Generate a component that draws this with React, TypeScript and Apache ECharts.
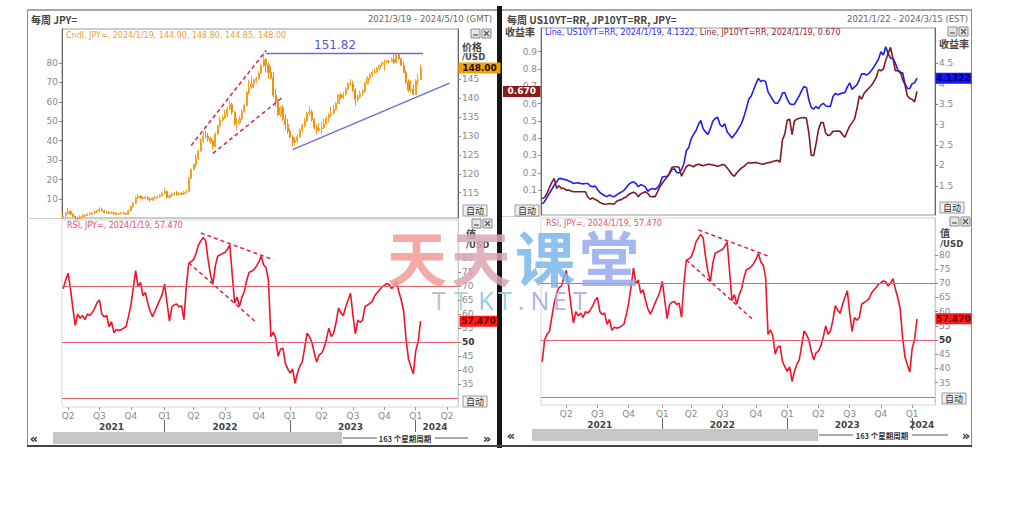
import React, { useEffect, useRef } from "react";
import * as echarts from "echarts";

// ---------------- categories (weekly, Friday) ----------------
const FIRST_WEEK = "2021/1/22";
const TOTAL_WEEKS = 172;
function buildWeeks(start: string, n: number): string[] {
  const [y, m, d] = start.split("/").map(Number);
  const out: string[] = [];
  for (let i = 0; i < n; i++) {
    const t = new Date(Date.UTC(y, m - 1, d + 7 * i));
    out.push(`${t.getUTCFullYear()}/${t.getUTCMonth() + 1}/${t.getUTCDate()}`);
  }
  return out;
}
const weeks = buildWeeks(FIRST_WEEK, TOTAL_WEEKS);
const LEFT_OFFSET = 8; // left panel starts 2021/3/19
const leftWeeks = weeks.slice(LEFT_OFFSET, LEFT_OFFSET + 164);
const rightWeeks = weeks.slice(0, 164);

// ---------------- data ----------------
// JPY= weekly candles from 2021/3/19 to 2024/1/19: [open, close, low, high]
const jpyCandles = [
  [108.7,108.9,108.4,109.3],[108.9,109.6,108.6,109.9],[109.6,110.0,109.3,110.9],[110.0,109.3,109.0,110.3],
  [109.3,108.7,108.5,109.5],[108.7,108.4,107.8,108.9],[108.4,108.2,107.5,108.6],[108.2,108.6,107.9,109.0],
  [108.6,108.8,108.3,109.3],[108.8,109.0,108.6,109.4],[109.0,109.2,108.8,109.6],[109.2,109.3,108.9,109.8],
  [109.3,109.6,109.1,110.0],[109.6,109.9,109.3,110.3],[109.9,110.1,109.6,110.5],[110.1,110.6,109.9,111.1],
  [110.6,110.2,110.0,111.0],[110.2,109.7,109.5,110.5],[109.7,109.8,109.4,110.2],[109.8,109.6,109.3,110.1],
  [109.6,109.7,109.3,110.1],[109.7,109.5,109.1,110.0],[109.5,109.3,109.0,109.8],[109.3,109.4,109.1,109.7],
  [109.4,109.6,109.2,110.0],[109.6,109.4,109.2,109.9],[109.4,109.3,109.1,109.7],[109.3,110.2,109.2,110.5],
  [110.2,111.3,110.0,111.6],[111.3,112.2,111.0,112.5],[112.2,113.6,112.0,114.0],[113.6,114.0,113.3,114.7],
  [114.0,113.6,113.3,114.4],[113.6,113.5,113.2,114.0],[113.5,113.8,113.3,114.2],[113.8,113.4,113.0,114.1],
  [113.4,113.1,112.6,113.7],[113.1,113.5,112.8,113.8],[113.5,113.7,113.2,114.1],[113.7,113.9,113.4,114.3],
  [113.9,114.2,113.6,114.6],[114.2,114.8,114.0,115.2],[114.8,115.3,114.6,116.2],[115.3,113.7,113.5,115.6],
  [113.7,114.2,113.5,114.6],[114.2,114.6,113.9,115.0],[114.6,114.9,114.3,115.3],[114.9,114.5,114.2,115.5],
  [114.5,114.8,114.3,115.2],[114.8,114.6,114.4,115.1],[114.6,115.0,114.4,115.4],[115.0,115.3,114.8,115.8],
  [115.3,118.8,115.2,119.2],[118.8,121.2,118.6,121.4],[121.2,122.4,120.8,122.8],[122.4,124.0,121.6,125.1],
  [124.0,126.0,123.6,126.4],[126.0,128.8,125.8,129.4],[128.8,129.9,128.2,131.2],[129.9,130.0,129.2,131.3],
  [130.0,129.3,128.5,130.8],[129.3,128.6,128.0,129.8],[128.6,127.2,126.4,128.9],[127.2,130.5,127.0,130.9],
  [130.5,132.6,130.2,133.0],[132.6,134.2,132.3,135.2],[134.2,134.8,133.8,135.6],[134.8,135.6,134.5,136.9],
  [135.6,137.2,135.2,137.8],[137.2,138.3,136.8,139.4],[138.3,136.3,135.6,138.8],[136.3,133.3,132.8,136.6],
  [133.3,133.5,131.6,134.8],[133.5,134.5,133.0,135.3],[134.5,136.5,134.2,137.0],[136.5,138.0,136.2,138.6],
  [138.0,141.5,137.8,142.0],[141.5,142.9,141.0,144.9],[142.9,143.8,142.5,145.9],[143.8,144.6,142.6,145.2],
  [144.6,145.2,144.0,145.6],[145.2,146.6,144.8,147.1],[146.6,148.6,146.3,149.0],[148.6,150.2,148.3,151.9],
  [150.2,148.8,146.8,150.6],[148.8,146.8,145.1,149.5],[146.8,145.4,145.0,148.4],[145.4,140.8,140.2,147.0],
  [140.8,139.0,137.7,142.5],[139.0,135.6,135.2,139.9],[135.6,137.5,135.0,137.9],[137.5,134.5,134.0,138.1],
  [134.5,133.0,131.7,135.9],[133.0,131.2,130.6,134.5],[131.2,129.7,129.5,132.0],[129.7,128.3,127.2,130.2],
  [128.3,128.8,127.6,129.7],[128.8,129.8,128.2,130.6],[129.8,131.6,129.4,132.0],[131.6,132.8,130.9,133.2],
  [132.8,134.0,132.4,134.8],[134.0,136.0,133.6,136.4],[136.0,136.4,135.3,137.9],[136.4,134.3,133.8,137.0],
  [134.3,132.3,131.8,134.7],[132.3,131.5,130.4,132.9],[131.5,132.0,131.0,133.5],[132.0,132.1,130.7,133.8],
  [132.1,133.2,131.8,134.6],[133.2,134.7,132.9,135.2],[134.7,135.6,133.6,136.0],[135.6,136.0,135.0,137.8],
  [136.0,137.0,135.6,138.3],[137.0,138.6,136.7,139.0],[138.6,140.8,138.4,141.0],[140.8,140.2,139.7,141.4],
  [140.2,141.0,139.8,141.6],[141.0,142.4,140.6,142.9],[142.4,143.8,142.1,144.2],[143.8,143.8,143.2,145.0],
  [143.8,142.2,141.6,144.5],[142.2,139.6,138.0,142.6],[139.6,140.3,139.0,141.0],[140.3,141.2,140.0,142.0],
  [141.2,141.9,140.6,142.3],[141.9,143.9,141.6,144.3],[143.9,145.3,143.6,145.8],[145.3,146.2,144.8,146.6],
  [146.2,146.8,145.6,147.3],[146.8,147.0,146.4,147.9],[147.0,147.9,146.7,148.3],[147.9,148.7,147.3,148.9],
  [148.7,149.2,148.5,149.7],[149.2,149.5,147.3,150.2],[149.5,149.8,149.1,150.1],[149.8,149.7,149.3,150.1],
  [149.7,150.2,149.5,150.8],[150.2,149.4,149.0,151.7],[149.4,151.5,149.2,151.7],[151.5,150.4,150.2,151.9],
  [150.4,148.7,148.5,150.7],[148.7,146.8,146.6,149.7],[146.8,144.4,143.8,147.3],[144.4,142.1,141.6,145.0],
  [142.1,142.4,141.5,144.9],[142.4,141.0,140.8,143.6],[141.0,144.6,140.9,145.0],[144.6,144.9,143.4,146.4],
  [144.9,148.0,144.85,148.8],
];

// RSI of JPY= weekly, from 2021/1/22 to 2024/1/19
const rsiValues = [
  42.3, 50, 52, 53, 58, 63, 66.5, 68.5, 69, 72,
  74.5, 69, 62, 56, 60, 58.5, 59.5, 58, 60, 59.5,
  60.5, 62, 64, 65, 60, 59, 59.5, 55.5, 57.3, 53.4,
  54.5, 54.2, 54.4, 55, 55.5, 59, 63, 69, 75.4, 69.8,
  71.2, 66.5, 67.7, 64, 61, 59.1, 61, 63, 65, 67,
  70.7, 64, 57.5, 62.5, 63.3, 63.6, 62.5, 63, 58, 70,
  78.1, 78.6, 79.3, 81.5, 84.5, 86, 87.2, 86, 79.3, 74,
  70.7, 77, 80.6, 81, 81.5, 81.9, 83, 84.6, 74, 63.9,
  66, 62.7, 66, 68, 72, 74.8, 75.2, 75.8, 77, 78.5,
  80.5, 77.5, 76.4, 72, 52, 53.6, 51.4, 45, 47.5, 47.9,
  42.5, 40.5, 39, 40.5, 35.4, 39, 41.5, 43, 48, 53.2,
  52, 50, 46.1, 43, 45.5, 46.1, 48, 51, 55, 52,
  53.2, 57, 62.1, 60.5, 59.4, 62.5, 65, 67.4, 59.5, 53,
  57.9, 57, 58, 62.7, 63.2, 63.8, 64.5, 66.5, 67.6, 68.5,
  69.7, 70.2, 70.8, 70.5, 69, 70, 71.6, 68, 65, 61,
  51, 44, 41.3, 38.7, 47, 50.2, 57.47,
];

// US10YT=RR weekly yield, 2021/1/22 .. 2024/1/19
const us10y = [
  1.06, 1.12, 1.22, 1.32, 1.42, 1.52, 1.6, 1.68, 1.68, 1.66,
  1.65, 1.62, 1.6, 1.56, 1.57, 1.58, 1.56, 1.55, 1.56, 1.56,
  1.5, 1.48, 1.5, 1.42, 1.34, 1.3, 1.26, 1.24, 1.28, 1.25,
  1.24, 1.28, 1.32, 1.35, 1.39, 1.46, 1.54, 1.58, 1.6, 1.56,
  1.48, 1.53, 1.51, 1.47, 1.37, 1.42, 1.44, 1.42, 1.46, 1.55,
  1.72, 1.73, 1.73, 1.8, 1.9, 1.92, 1.83, 1.82, 1.9, 2.05,
  2.36, 2.44, 2.65, 2.76, 2.85, 3.0, 3.1, 2.9, 2.82, 2.76,
  2.9, 3.08, 3.15, 3.18, 3.0, 2.95, 3.02, 2.82, 2.75, 2.67,
  2.75, 2.83, 2.93, 3.03, 3.2, 3.4, 3.62, 3.7, 3.85, 4.0,
  4.13, 4.05, 4.08, 4.05, 3.8, 3.7, 3.6, 3.52, 3.52, 3.62,
  3.77, 3.78, 3.62, 3.51, 3.49, 3.5, 3.6, 3.7, 3.83, 3.93,
  3.9, 3.6, 3.42, 3.38, 3.44, 3.39, 3.48, 3.52, 3.46, 3.44,
  3.45, 3.68, 3.76, 3.73, 3.75, 3.77, 3.78, 3.92, 4.02, 3.86,
  3.92, 3.97, 4.1, 4.24, 4.24, 4.21, 4.25, 4.32, 4.4, 4.5,
  4.6, 4.78, 4.7, 4.9, 4.74, 4.62, 4.62, 4.5, 4.34, 4.26,
  4.27, 4.0, 3.88, 3.88, 4.0, 4.02, 4.1322,
];

// JP10YT=RR weekly yield, 2021/1/22 .. 2024/1/19
const jp10y = [
  0.05, 0.058, 0.08, 0.115, 0.145, 0.168, 0.11, 0.125, 0.11, 0.11,
  0.1, 0.1, 0.095, 0.09, 0.09, 0.09, 0.09, 0.09, 0.09, 0.06,
  0.047, 0.055, 0.045, 0.04, 0.028, 0.022, 0.018, 0.02, 0.023, 0.02,
  0.02, 0.035, 0.042, 0.045, 0.055, 0.06, 0.075, 0.082, 0.088, 0.08,
  0.062, 0.078, 0.085, 0.09, 0.08, 0.063, 0.062, 0.062, 0.09, 0.12,
  0.14, 0.16, 0.175, 0.2, 0.23, 0.235, 0.235, 0.23, 0.18, 0.21,
  0.235, 0.245, 0.24, 0.235, 0.245, 0.25, 0.245, 0.24, 0.245, 0.25,
  0.248, 0.245, 0.242, 0.238, 0.242, 0.248, 0.245, 0.228, 0.21, 0.19,
  0.18, 0.2, 0.215, 0.228, 0.237, 0.25, 0.26, 0.255, 0.258, 0.26,
  0.255, 0.252, 0.25, 0.255, 0.258, 0.26, 0.265, 0.27, 0.272, 0.262,
  0.39, 0.425, 0.505, 0.51, 0.42, 0.5, 0.51, 0.515, 0.518, 0.52,
  0.515, 0.43, 0.3, 0.3, 0.37, 0.45, 0.49, 0.49, 0.43, 0.415,
  0.42, 0.44, 0.44, 0.442, 0.44, 0.42, 0.405, 0.44, 0.47, 0.49,
  0.51, 0.57, 0.645, 0.625, 0.66, 0.675, 0.69, 0.705, 0.725, 0.75,
  0.795, 0.79, 0.8, 0.85, 0.89, 0.925, 0.86, 0.79, 0.79, 0.785,
  0.74, 0.71, 0.645, 0.63, 0.625, 0.61, 0.67,
];

// Hand-drawn trend lines [date, value]
const priceChannelUpper = [["2022/3/25", 127.5], ["2022/10/28", 152.6]];
const priceChannelLower = [["2022/5/27", 125.4], ["2022/12/16", 140.3]];
const priceResistance = [["2022/10/28", 151.82], ["2024/1/26", 151.82]];
const priceSupport = [["2023/1/13", 126.4], ["2024/4/12", 144.0]];
const rsiTrendUpper = [["2022/4/22", 88.8], ["2022/11/18", 79.3]];
const rsiTrendLower = [["2022/3/18", 78.2], ["2022/9/30", 57.0]];
const rsiLevels = [30, 50, 70];

// tick labels
const priceTicks = [115, 120, 125, 130, 135, 140, 145];
const leftAuxTicks = [10, 20, 30, 40, 50, 60, 70, 80];
const rsiTicks = [35, 40, 45, 50, 55, 60, 65, 70, 75, 80];
const jpTicks = [0.1, 0.2, 0.3, 0.4, 0.5, 0.6, 0.7, 0.8, 0.9];
const usTicks = [1.5, 2, 2.5, 3, 3.5, 4, 4.5];

const lastCandle = { date: "2024/1/19", open: 144.9, high: 148.8, low: 144.85, close: 148.0 };
const lastRsi = 57.47;
const lastUs = 4.1322;
const lastJp = 0.67;

// watermark
const watermarkChars = ["天", "天", "课", "堂"];
const watermarkColors = ["#f29b98", "#dba7b4", "#7ab6ea", "#95a9ef"];
const watermarkSub = ["T", "T", "K", "T", ".", "N", "E", "T"];
const watermarkSubColors = ["#b8b8b8", "#a4ccd4", "#82c6da", "#94c8d8", "#9aaee6", "#a2a8ec", "#a8a8ee", "#a8a8ee"];

// ---------------- helpers ----------------
const FONT = "Verdana, 'DejaVu Sans', 'Noto Sans CJK SC', sans-serif";
const CJK = "'Noto Sans CJK SC', 'DejaVu Sans', sans-serif";

function parts(v: string) {
  const [y, m, d] = v.split("/").map(Number);
  return { y, m, d };
}
const isQuarterStart = (_i: number, v: string) => {
  const { m, d } = parts(v);
  return (m === 1 || m === 4 || m === 7 || m === 10) && d <= 7;
};
const isYearStart = (_i: number, v: string) => {
  const { m, d } = parts(v);
  return m === 1 && d <= 7;
};
const qLabel = (v: string) => "Q" + (Math.floor((parts(v).m - 1) / 3) + 1);
function yearMidSet(cats: string[]): Set<number> {
  const ranges: Record<number, [number, number]> = {};
  cats.forEach((c, i) => {
    const y = parts(c).y;
    if (!ranges[y]) ranges[y] = [i, i];
    else ranges[y][1] = i;
  });
  const s = new Set<number>();
  Object.values(ranges).forEach(([a, b]) => s.add(Math.floor((a + b) / 2)));
  return s;
}

function xAxesFor(grid: number, cats: string[]) {
  const mids = yearMidSet(cats);
  return [
    { type: "category", gridIndex: grid, data: cats, show: false },
    {
      type: "category", gridIndex: grid + 1, data: cats, position: "bottom",
      axisLine: { show: false },
      axisTick: { show: true, alignWithLabel: true, interval: isQuarterStart, length: 3, lineStyle: { color: "#999" } },
      axisLabel: { interval: isQuarterStart, formatter: qLabel, color: "#8a8a8a", fontSize: 9, margin: 4, fontFamily: FONT },
      splitLine: { show: false },
    },
    {
      type: "category", gridIndex: grid + 1, data: cats, position: "bottom", offset: 13,
      axisLine: { show: false },
      axisTick: { show: true, alignWithLabel: true, interval: isYearStart, length: 12, lineStyle: { color: "#666" } },
      axisLabel: {
        interval: (i: number) => mids.has(i), formatter: (v: string) => String(parts(v).y),
        color: "#444", fontWeight: "bold", fontSize: 9, margin: 2, fontFamily: FONT,
      },
      splitLine: { show: false },
    },
  ];
}

function valueAxis(grid: number, pos: string, min: number, max: number, ticks: number[], fmt?: any, extra: any = {}) {
  return {
    type: "value", gridIndex: grid, position: pos, min, max,
    splitLine: { show: false },
    axisLine: { show: true, lineStyle: { color: extra.lineColor || "#666" } },
    axisTick: { show: true, customValues: ticks, length: 3, lineStyle: { color: "#888" } },
    axisLabel: {
      customValues: ticks, color: "#8a8a8a", fontSize: 9, margin: 4, fontFamily: FONT,
      formatter: fmt || ((v: number) => String(v)),
      rich: { b: { fontWeight: "bold", color: "#333", fontSize: 9, fontFamily: FONT } },
    },
  };
}

const rsiFmt = (v: number) => (v === 50 ? "{b|50}" : String(v));

function rsiMarkLine() {
  const dash = { color: "#e0204e", type: [4, 3], width: 1.5 };
  return {
    silent: true, symbol: ["none", "none"], animation: false,
    label: { show: false },
    data: [
      ...rsiLevels.map((v) => ({ yAxis: v, lineStyle: { color: "#e8606e", width: 1, type: "solid" } })),
      [{ coord: rsiTrendUpper[0], lineStyle: dash }, { coord: rsiTrendUpper[1] }],
      [{ coord: rsiTrendLower[0], lineStyle: dash }, { coord: rsiTrendLower[1] }],
    ],
  };
}

function buildOption() {
  const redDash = { color: "#dc1f50", type: [4, 3], width: 1.5 };
  const blue = { color: "#6b6be0", type: "solid", width: 1.3 };
  return {
    animation: false,
    backgroundColor: "#ffffff",
    grid: [
      { left: 62, top: 29, width: 396, height: 189, show: true, borderColor: "#999", borderWidth: 1 },
      { left: 62, top: 220, width: 396, height: 187, show: true, borderColor: "#d6d6d6", borderWidth: 1 },
      { left: 541, top: 28, width: 394, height: 187, show: true, borderColor: "#999", borderWidth: 1 },
      { left: 541, top: 218, width: 394, height: 187, show: true, borderColor: "#d6d6d6", borderWidth: 1 },
    ],
    xAxis: [...xAxesFor(0, leftWeeks), ...xAxesFor(2, rightWeeks)],
    yAxis: [
      valueAxis(0, "right", 108.3, 158.3, priceTicks),
      valueAxis(0, "left", 0.2, 97.5, leftAuxTicks),
      valueAxis(1, "right", 27, 93.4, rsiTicks, rsiFmt, { lineColor: "#ccc" }),
      valueAxis(2, "left", -0.044, 1.037, jpTicks, (v: number) => v.toFixed(1)),
      valueAxis(2, "right", 0.79, 5.36, usTicks),
      valueAxis(3, "right", 27.1, 93, rsiTicks, rsiFmt, { lineColor: "#ccc" }),
    ],
    series: [
      {
        name: "Cndl", type: "candlestick", xAxisIndex: 0, yAxisIndex: 0,
        data: jpyCandles, barWidth: 1.6,
        itemStyle: { color: "#fcc36a", color0: "#f39a1e", borderColor: "#f5a020", borderColor0: "#ef8f12", borderWidth: 1 },
        markLine: {
          silent: true, symbol: ["none", "none"], animation: false,
          label: { show: false },
          data: [
            [{ coord: priceChannelUpper[0], lineStyle: redDash }, { coord: priceChannelUpper[1] }],
            [{ coord: priceChannelLower[0], lineStyle: redDash }, { coord: priceChannelLower[1] }],
            [
              {
                coord: priceResistance[0], lineStyle: blue,
                label: { show: true, position: "insideStartTop", formatter: String(priceResistance[0][1]), color: "#5555dd", fontSize: 12, distance: [48, 2], fontFamily: FONT },
              },
              { coord: priceResistance[1] },
            ],
            [{ coord: priceSupport[0], lineStyle: blue }, { coord: priceSupport[1] }],
          ],
        },
      },
      {
        name: "RSI L", type: "line", xAxisIndex: 1, yAxisIndex: 2,
        data: rsiValues.slice(LEFT_OFFSET), symbol: "none",
        lineStyle: { color: "#f0142a", width: 1.6 }, markLine: rsiMarkLine(),
      },
      {
        name: "US10YT=RR", type: "line", xAxisIndex: 3, yAxisIndex: 4,
        data: us10y, symbol: "none", lineStyle: { color: "#1e1ef0", width: 1.6 },
      },
      {
        name: "JP10YT=RR", type: "line", xAxisIndex: 3, yAxisIndex: 3,
        data: jp10y, symbol: "none", lineStyle: { color: "#7d1a22", width: 1.6 },
      },
      {
        name: "RSI R", type: "line", xAxisIndex: 4, yAxisIndex: 5,
        data: rsiValues, symbol: "none",
        lineStyle: { color: "#f0142a", width: 1.6 }, markLine: rsiMarkLine(),
      },
    ],
  };
}

// ---------------- graphic helpers ----------------
function txt(x: number, y: number, text: string, o: any = {}) {
  return {
    type: "text", x, y, z: o.z || 100, silent: true,
    style: {
      text, fill: o.fill || "#444", fontSize: o.size || 9, fontFamily: o.family || FONT,
      fontWeight: o.weight || "normal",
      align: o.align || "left", verticalAlign: o.valign || "middle",
      textAlign: o.align || "left", textVerticalAlign: o.valign || "middle",
      opacity: o.opacity ?? 1,
    },
  };
}
function ln(x1: number, y1: number, x2: number, y2: number, stroke: string, w = 1) {
  return { type: "line", z: 100, silent: true, shape: { x1, y1, x2, y2 }, style: { stroke, lineWidth: w } };
}
function rc(x: number, y: number, w: number, h: number, fill: string, stroke?: string) {
  return { type: "rect", z: 100, silent: true, shape: { x, y, width: w, height: h }, style: { fill, stroke: stroke || null, lineWidth: 1 } };
}
function autoBtn(x: number, y: number) {
  return [rc(x, y, 24, 11, "#efefef", "#9a9a9a"), txt(x + 12, y + 5.5, "自动", { size: 9, family: CJK, align: "center", fill: "#333" })];
}
function winBtns(x: number, y: number) {
  return [
    rc(x, y, 9, 9, "#e6e6e6", "#888"), ln(x + 2, y + 6, x + 7, y + 6, "#555", 1.2),
    rc(x + 11, y, 9, 9, "#e6e6e6", "#888"), ln(x + 13, y + 2, x + 18, y + 7, "#555", 1.2), ln(x + 18, y + 2, x + 13, y + 7, "#555", 1.2),
  ];
}
function valueTag(x: number, y: number, w: number, text: string, bg: string, color: string) {
  return [rc(x, y - 5.5, w, 11, bg), txt(x + w / 2, y, text, { size: 9, weight: "bold", fill: color, align: "center" })];
}
function scroller(x0: number, y: number, barX: number, barW: number, lineA: [number, number], textX: number, lineB: [number, number], x1: number) {
  return [
    txt(x0, y, "«", { size: 13, weight: "bold", fill: "#333", align: "center" }),
    rc(barX, y - 6, barW, 12, "#c6c6c6"),
    ln(lineA[0], y, lineA[1], y, "#555", 1),
    txt(textX, y, "163 个星期周期", { size: 7.5, weight: "bold", family: CJK, fill: "#333", align: "center" }),
    ln(lineB[0], y, lineB[1], y, "#555", 1),
    txt(x1, y, "»", { size: 13, weight: "bold", fill: "#333", align: "center" }),
  ];
}

function buildGraphics(chart: any) {
  const yPrice = chart.convertToPixel({ yAxisIndex: 0 }, lastCandle.close);
  const yRsiL = chart.convertToPixel({ yAxisIndex: 2 }, lastRsi);
  const yJp = chart.convertToPixel({ yAxisIndex: 3 }, lastJp);
  const yUs = chart.convertToPixel({ yAxisIndex: 4 }, lastUs);
  const yRsiR = chart.convertToPixel({ yAxisIndex: 5 }, lastRsi);
  const f2 = (v: number) => v.toFixed(2);
  const legendPrice = `Cndl, JPY=, ${lastCandle.date}, ${f2(lastCandle.open)}, ${f2(lastCandle.high)}, ${f2(lastCandle.low)}, ${f2(lastCandle.close)}`;
  const legendRsi = `RSI, JPY=, ${lastCandle.date}, ${lastRsi.toFixed(3)}`;

  const wmMain = watermarkChars.map((ch, i) =>
    txt(417 + i * 64, 255, ch, { size: 60, family: CJK, weight: "bold", fill: watermarkColors[i], align: "center", opacity: 0.85, z: 120 })
  );
  const subX = [439, 461, 486, 505, 521, 540, 560, 580];
  const wmSub = watermarkSub.map((ch, i) =>
    txt(subX[i], 300, ch, { size: 25, family: "'Open Sans', 'DejaVu Sans', sans-serif", fill: watermarkSubColors[i], align: "center", opacity: 0.9, z: 120 })
  );

  return [
    // frames
    ln(27, 10, 497, 10, "#8a8a8a", 1.5),
    ln(502, 10, 972, 10, "#8a8a8a", 1.5),
    ln(27.5, 10, 27.5, 446, "#8a8a8a", 1),
    ln(971.5, 10, 971.5, 446, "#8a8a8a", 1),
    rc(497, 6, 5, 442, "#151515"),
    ln(27, 446, 972, 446, "#444", 2),
    ln(27, 218.5, 62, 218.5, "#cfcfcf", 1),
    ln(502, 216.5, 541, 216.5, "#cfcfcf", 1),

    // headers
    txt(31, 19, "每周 JPY=", { size: 10, weight: "bold", family: CJK, fill: "#444" }),
    txt(492, 19, "2021/3/19 - 2024/5/10 (GMT)", { size: 8.5, fill: "#666", align: "right" }),
    txt(507, 19, "每周 US10YT=RR, JP10YT=RR, JPY=", { size: 10, weight: "bold", family: CJK, fill: "#444" }),
    txt(968, 19, "2021/1/22 - 2024/3/15 (EST)", { size: 8.5, fill: "#666", align: "right" }),

    // legends
    txt(66, 35, legendPrice, { size: 8, fill: "#f0a030" }),
    txt(67, 225.5, legendRsi, { size: 8, fill: "#e8506a" }),
    {
      type: "text", x: 545, y: 32, z: 100, silent: true,
      style: {
        text: `{u|Line, US10YT=RR, ${lastCandle.date}, ${lastUs.toFixed(4)}, }{j|Line, JP10YT=RR, ${lastCandle.date}, ${lastJp.toFixed(3)}}`,
        verticalAlign: "middle", textVerticalAlign: "middle",
        rich: {
          u: { fill: "#2a2af0", fontSize: 8, fontFamily: FONT },
          j: { fill: "#9a2030", fontSize: 8, fontFamily: FONT },
        },
      },
    },
    txt(546, 223, legendRsi, { size: 8, fill: "#e8506a" }),

    // axis titles
    txt(462, 46, "价格", { size: 10, weight: "bold", family: CJK, fill: "#444" }),
    txt(462, 57, "/USD", { size: 8.5, weight: "bold", fill: "#444" }),
    txt(466, 233, "值", { size: 10, weight: "bold", family: CJK, fill: "#444" }),
    txt(466, 245, "/USD", { size: 8.5, weight: "bold", fill: "#444" }),
    txt(940, 232, "值", { size: 10, weight: "bold", family: CJK, fill: "#444" }),
    txt(940, 244, "/USD", { size: 8.5, weight: "bold", fill: "#444" }),
    txt(505, 31, "收益率", { size: 10, weight: "bold", family: CJK, fill: "#444" }),
    txt(939, 43, "收益率", { size: 10, weight: "bold", family: CJK, fill: "#444" }),

    // value tags
    ...valueTag(458.5, yPrice, 42, f2(lastCandle.close), "#f5a000", "#111"),
    ...valueTag(459.5, yRsiL, 38, lastRsi.toFixed(3), "#ff1a1a", "#6a0000"),
    ...valueTag(503, yJp, 37.5, lastJp.toFixed(3), "#8b1a1a", "#ffffff"),
    ...valueTag(935.5, yUs, 36, lastUs.toFixed(4), "#1515ff", "#00006a"),
    ...valueTag(935.5, yRsiR, 36, lastRsi.toFixed(3), "#ff1a1a", "#6a0000"),

    // buttons
    ...winBtns(471, 29),
    ...winBtns(472, 219),
    ...winBtns(948, 27),
    ...winBtns(950, 217),
    ...autoBtn(463, 205),
    ...autoBtn(463, 396),
    ...autoBtn(515, 205),
    ...autoBtn(940, 202),
    ...autoBtn(942, 393),

    // scrollers
    ...scroller(34, 438, 53, 289, [343, 377], 405, [435, 468], 487),
    ...scroller(511, 435, 532, 286, [819, 853], 882, [912, 948], 966),

    // watermark
    ...wmMain,
    ...wmSub,
  ];
}

export default function App() {
  const ref = useRef<HTMLDivElement>(null);
  useEffect(() => {
    if (!ref.current) return;
    const chart = echarts.init(ref.current, null, { renderer: "svg", width: 1024, height: 522 });
    chart.setOption(buildOption());
    chart.setOption({ graphic: buildGraphics(chart) });
    return () => chart.dispose();
  }, []);
  return (
    <div
      ref={ref}
      style={{ position: "absolute", left: 0, top: 0, width: 1024, height: 522, background: "#ffffff" }}
    />
  );
}
